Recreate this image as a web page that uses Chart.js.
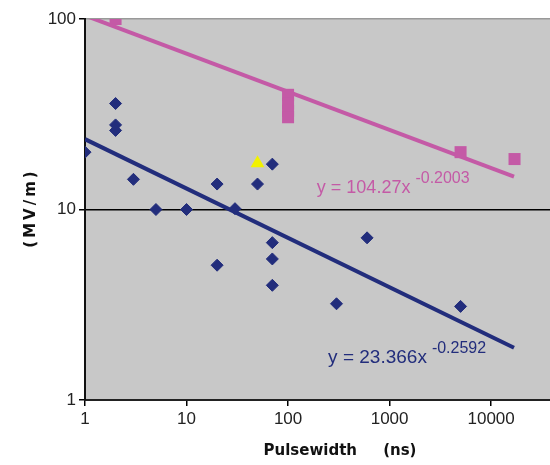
<!DOCTYPE html>
<html>
<head>
<meta charset="utf-8">
<script src="https://cdn.jsdelivr.net/npm/chart.js@4.4.1/dist/chart.umd.min.js"></script>
<style>
  html, body { margin: 0; padding: 0; background: #fff; }
  #wrap { width: 550px; height: 465px; }
</style>
</head>
<body>
<div id="wrap"><canvas id="graphique" width="550" height="465"></canvas></div>
<script>
// blue diamonds
var blueX = [1, 2, 2, 2, 3, 5, 10, 20, 20, 30, 50, 70, 70, 70, 70, 300, 600, 5000];
var blueY = [20, 36, 27.8, 26, 14.4, 10, 10, 13.6, 5.1, 10.1, 13.6, 17.3, 6.7, 5.5, 4.0, 3.2, 7.1, 3.1];
// magenta squares
var pinkX = [2, 100, 100, 100, 100, 5000, 17000];
var pinkY = [100, 40, 36, 33, 30.5, 20, 18.4];
// yellow triangle
var yellowX = [50];
var yellowY = [17.5];
// trend lines (end points)
var trendX = [1, 16800];
var blueTrend = [23.4, 1.88];
var pinkTrend = [104.3, 14.9];
var xTicks = [1, 10, 100, 1000, 10000];
var yTicks = [1, 10, 100];

var blue = '#222d7c';
var pink = '#c45aa6';

function pts(xs, ys) {
  var out = [];
  for (var i in xs) out.push({x: xs[i], y: ys[i]});
  return out;
}

var bgPlugin = {
  id: 'grisFond',
  beforeDraw: function(chart) {
    var a = chart.chartArea, ctx = chart.ctx;
    ctx.save();
    ctx.fillStyle = '#c8c8c8';
    ctx.fillRect(a.left, a.top, a.right - a.left, a.bottom - a.top);
    ctx.restore();
  }
};

var eqPlugin = {
  id: 'equations',
  afterDatasetsDraw: function(chart) {
    var ctx = chart.ctx, xs = chart.scales.x, ys = chart.scales.y;
    function eq(main, sup, xv, yv, color, size) {
      var px = xs.getPixelForValue(xv), py = ys.getPixelForValue(yv);
      ctx.save();
      ctx.fillStyle = color;
      ctx.textBaseline = 'alphabetic';
      ctx.font = size + 'px "Liberation Sans", Arial, sans-serif';
      ctx.fillText(main, px, py);
      var w = ctx.measureText(main).width;
      ctx.font = '16px "Liberation Sans", Arial, sans-serif';
      ctx.fillText(sup, px + w + 5, py - 10);
      ctx.restore();
    }
    eq('y = 104.27x', '-0.2003', 192, 12.2, pink, 18);
    eq('y = 23.366x', '-0.2592', 248, 1.57, blue, 19);
  }
};

var chartdata = {
  datasets: [
    {
      label: 'losange',
      data: pts(blueX, blueY),
      pointStyle: 'rectRot',
      pointRadius: 6,
      backgroundColor: blue,
      borderColor: blue,
      borderWidth: 1
    },
    {
      label: 'carre',
      data: pts(pinkX, pinkY),
      pointStyle: 'rect',
      pointRadius: 8.5,
      backgroundColor: pink,
      borderColor: pink,
      borderWidth: 0
    },
    {
      label: 'triangle',
      data: pts(yellowX, yellowY),
      pointStyle: 'triangle',
      pointRadius: 8,
      backgroundColor: '#f2f200',
      borderColor: '#f2f200',
      borderWidth: 0
    },
    {
      label: 'tendance bleue',
      data: pts(trendX, blueTrend),
      showLine: true,
      pointRadius: 0,
      borderColor: blue,
      borderWidth: 4
    },
    {
      label: 'tendance rose',
      data: pts(trendX, pinkTrend),
      showLine: true,
      pointRadius: 0,
      borderColor: pink,
      borderWidth: 4
    }
  ]
};

var ctx = document.getElementById('graphique');

var graph = new Chart(ctx, {
  type: 'scatter',
  data: chartdata,
  plugins: [bgPlugin, eqPlugin],
  options: {
    responsive: false,
    animation: false,
    layout: { autoPadding: false, padding: { top: 19, right: 0, left: 0, bottom: 0 } },
    plugins: { legend: { display: false }, tooltip: { enabled: false } },
    scales: {
      x: {
        type: 'logarithmic',
        min: 1,
        max: 38000,
        afterBuildTicks: function(s) { s.ticks = xTicks.map(function(v) { return {value: v}; }); },
        afterFit: function(s) { s.height = 65; s.paddingLeft = 0; s.paddingRight = 0; },
        ticks: {
          color: '#222',
          padding: 3,
          maxRotation: 0,
          font: { family: '"Liberation Sans", Arial, sans-serif', size: 17 },
          callback: function(v) { return String(v); }
        },
        grid: { drawOnChartArea: false, drawTicks: true, tickLength: 6, color: '#000', lineWidth: 1.5 },
        border: { color: '#222', width: 2 },
        title: {
          display: true,
          text: '\u2003\u2003\u2003Pulsewidth     (ns)',
          color: '#111',
          padding: { top: 0, bottom: 5 },
          font: { family: '"DejaVu Sans", Verdana, sans-serif', size: 15, weight: 'bold' }
        }
      },
      y: {
        type: 'logarithmic',
        min: 1,
        max: 100,
        afterBuildTicks: function(s) { s.ticks = yTicks.map(function(v) { return {value: v}; }); },
        afterFit: function(s) { s.width = 85; s.paddingTop = 0; s.paddingBottom = 0; },
        ticks: {
          color: '#222',
          padding: 3,
          font: { family: '"Liberation Sans", Arial, sans-serif', size: 17 },
          callback: function(v) { return String(v); }
        },
        grid: {
          drawTicks: true,
          tickLength: 6,
          lineWidth: 1.5,
          color: function(c) {
            if (c.tick && c.tick.value === 10) return '#000';
            if (c.tick && c.tick.value === 100) return '#999';
            return 'rgba(0,0,0,0)';
          },
          tickColor: '#000'
        },
        border: { color: '#111', width: 2 },
        title: {
          display: true,
          text: '(\u2009M\u2009V\u2009/\u2009m\u2009)',
          color: '#111',
          padding: { top: 22, bottom: 0 },
          font: { family: '"DejaVu Sans", Verdana, sans-serif', size: 15, weight: 'bold' }
        }
      }
    }
  }
});
</script>
</body>
</html>
